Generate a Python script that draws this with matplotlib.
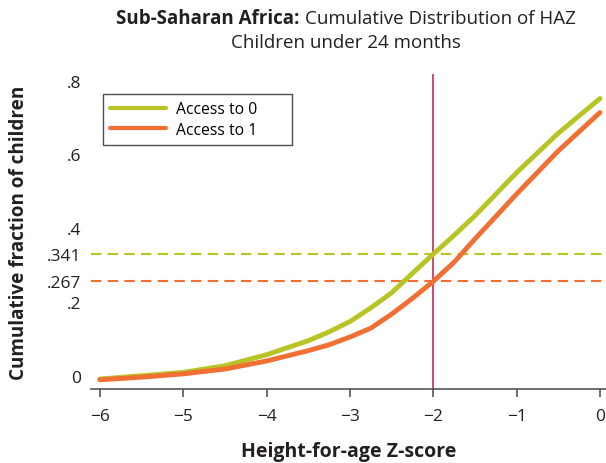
import matplotlib
matplotlib.use("Agg")
import matplotlib.pyplot as plt
from matplotlib.transforms import ScaledTranslation

plt.rcParams['font.family'] = ['Open Sans', 'DejaVu Sans']

# HAZ z-scores and cumulative fractions
haz = [-6, -5.5, -5, -4.5, -4, -3.5, -3.25, -3, -2.75, -2.5, -2.25, -2, -1.75, -1.5, -1, -0.5, 0]
access0 = [0.002, 0.011, 0.020, 0.038, 0.068, 0.106, 0.130, 0.158, 0.195, 0.236, 0.289, 0.341,
           0.392, 0.445, 0.562, 0.669, 0.763]
access1 = [0.0, 0.007, 0.016, 0.029, 0.051, 0.079, 0.095, 0.116, 0.140, 0.178, 0.221, 0.267,
           0.319, 0.382, 0.504, 0.621, 0.725]
cutoff = -2
ref0 = 0.341
ref1 = 0.267

xticks = [-6, -5, -4, -3, -2, -1, 0]
xlabels = ['\u22126', '\u22125', '\u22124', '\u22123', '\u22122', '\u22121', '0']
yticks = [0, 0.2, 0.267, 0.341, 0.4, 0.6, 0.8]
ylabels = ['0', '.2', '.267', '.341', '.4', '.6', '.8']

green = '#b7c424'
orange = '#f26f33'
red = '#c2304c'
txt = '#231f20'

fig = plt.figure(figsize=(6.06, 4.64), dpi=100)
ax = fig.add_axes([0.150, 0.1595, 0.850, 0.6785])

ax.axhline(ref0, color=green, lw=1.5, ls=(0, (5, 3)))
ax.axhline(ref1, color=orange, lw=1.5, ls=(0, (5, 3)))
ax.axvline(cutoff, color=red, lw=1.2)
ax.plot(haz, access0, color=green, lw=3.5, solid_capstyle='round', solid_joinstyle='round',
        label='Access to 0')
ax.plot(haz, access1, color=orange, lw=3.5, solid_capstyle='round', solid_joinstyle='round',
        label='Access to 1')

ax.set_xlim(-6.108, 0.072)
ax.set_ylim(-0.025, 0.829)
for s in ['top', 'right', 'left']:
    ax.spines[s].set_visible(False)
ax.spines['bottom'].set_color('#555555')
ax.spines['bottom'].set_linewidth(1.2)

ax.set_xticks(xticks)
ax.set_xticklabels(xlabels)
ax.set_yticks(yticks)
ax.set_yticklabels(ylabels)
ax.tick_params(axis='x', length=6, width=1.2, color='#555555', labelsize=12.5, labelcolor=txt, pad=8)
ax.tick_params(axis='y', length=0, labelsize=12.5, labelcolor=txt, pad=6.7)
# the round-number labels sit a little above their values in the original
up = ScaledTranslation(0, 3 / 72, fig.dpi_scale_trans)
for lab in ax.get_yticklabels():
    if lab.get_text() in ['0', '.2', '.4', '.6', '.8']:
        lab.set_transform(lab.get_transform() + up)

ax.set_xlabel('Height-for-age Z-score', fontsize=14, fontweight='bold', color=txt, labelpad=12)
ax.set_ylabel('Cumulative fraction of children', fontsize=13.6, fontweight='bold', color=txt, labelpad=13)

leg = ax.legend(loc='upper left', bbox_to_anchor=(0.023, 0.5, 0.367, 0.437), mode='expand',
                fontsize=11.3, frameon=True, fancybox=False, edgecolor='#222222',
                handlelength=3.6, borderpad=0.45, labelspacing=0.3, handletextpad=0.6,
                borderaxespad=0)
leg.get_frame().set_linewidth(1.0)
for line in leg.get_lines():
    line.set_linewidth(3)

fig.text(300 / 606, 0.958, 'Sub-Saharan Africa:', ha='right', va='center', fontsize=13.5,
         fontweight='bold', color=txt)
fig.text(305 / 606, 0.958, 'Cumulative Distribution of HAZ', ha='left', va='center',
         fontsize=13.5, color=txt)
fig.text(346 / 606, 0.907, 'Children under 24 months', ha='center', va='center',
         fontsize=13.5, color=txt)

fig.savefig('out.png', dpi=100)
